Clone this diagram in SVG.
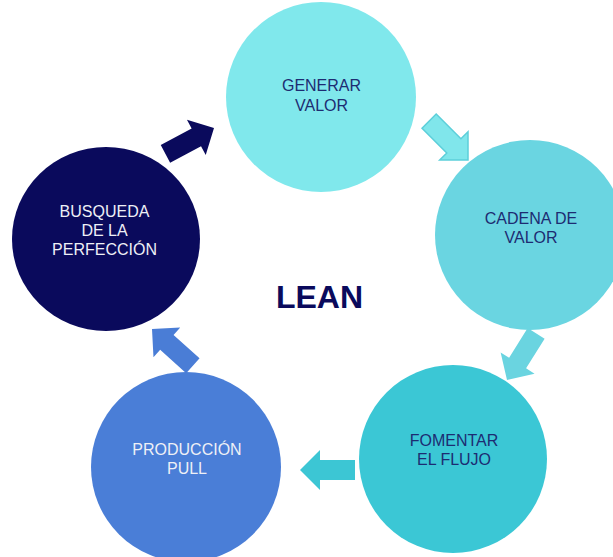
<svg xmlns="http://www.w3.org/2000/svg" width="613" height="557" viewBox="0 0 613 557">
  <style>
    .label { font-family: "Liberation Sans", Arial, sans-serif; font-size: 16px; text-anchor: middle; }
    .dark { fill: #1d2c72; }
    .light { fill: #eef0f6; }
    .title { font-family: "Liberation Sans", Arial, sans-serif; font-size: 32px; font-weight: bold; text-anchor: middle; fill: #0a0a5c; }
  </style>
  <defs>
    <!-- block arrow pointing along +x, tip at (55,0) -->
    <path id="blockArrow" d="M0,-10 L35,-10 L35,-20 L55,0 L35,20 L35,10 L0,10 Z"/>
  </defs>
  <rect width="613" height="557" fill="#ffffff"/>

  <g id="connectors">
    <use href="#blockArrow" transform="translate(214,128) rotate(-28) translate(-55,0)" fill="#0a0a5c"/>
    <use href="#blockArrow" transform="translate(468,160) rotate(45) translate(-55,0)" fill="#80e6eb" stroke="#5ccfda" stroke-width="1.5"/>
    <use href="#blockArrow" transform="translate(507,380) rotate(122) translate(-55,0)" fill="#6ad4e0"/>
    <use href="#blockArrow" transform="translate(300,470) rotate(180) translate(-55,0)" fill="#3cc6d4"/>
    <use href="#blockArrow" transform="translate(152,329) rotate(-138) translate(-55,0)" fill="#4a7dd6"/>
  </g>

  <g id="generar-valor">
    <circle cx="321" cy="97" r="95" fill="#80e8ec"/>
    <text class="label dark" x="321.5" y="91">GENERAR</text>
    <text class="label dark" x="321.5" y="111">VALOR</text>
  </g>

  <g id="cadena-de-valor">
    <circle cx="530" cy="235" r="95" fill="#6ad5e1"/>
    <text class="label dark" x="531" y="224">CADENA DE</text>
    <text class="label dark" x="531" y="243">VALOR</text>
  </g>

  <g id="fomentar-el-flujo">
    <circle cx="453" cy="459" r="94" fill="#3bc7d5"/>
    <text class="label dark" x="454" y="446">FOMENTAR</text>
    <text class="label dark" x="454" y="465">EL FLUJO</text>
  </g>

  <g id="produccion-pull">
    <circle cx="186" cy="467" r="95" fill="#4a7ed7"/>
    <text class="label light" x="187" y="455">PRODUCCIÓN</text>
    <text class="label light" x="187" y="474">PULL</text>
  </g>

  <g id="busqueda-perfeccion">
    <ellipse cx="106" cy="239" rx="94" ry="92" fill="#0a0a5c"/>
    <text class="label light" x="104.5" y="217">BUSQUEDA</text>
    <text class="label light" x="104.5" y="236">DE LA</text>
    <text class="label light" x="104.5" y="255">PERFECCIÓN</text>
  </g>

  <g id="lean">
    <text class="title" x="319.5" y="308">LEAN</text>
  </g>
</svg>
